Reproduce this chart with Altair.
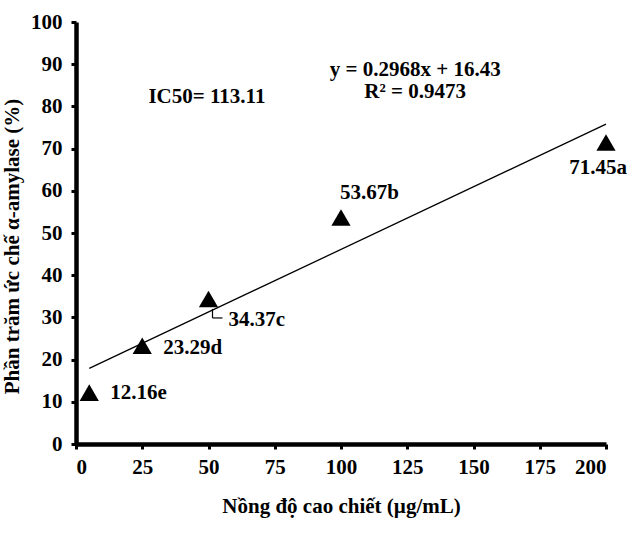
import altair as alt
import pandas as pd

conc = [5, 25, 50, 100, 200]
inhib = [12.16, 23.29, 34.37, 53.67, 71.45]
labels = ["12.16e", "23.29d", "34.37c", "53.67b", "71.45a"]
x_ticks = [0, 25, 50, 75, 100, 125, 150, 175, 200]
y_ticks = [0, 10, 20, 30, 40, 50, 60, 70, 80, 90, 100]

# label offsets in pixels (style)
label_dx = [21, 21, 20, -1, -8]
label_dy = [0, 2, 21, -25, 26]
label_align = ["left", "left", "left", "left", "center"]

FONT = "Liberation Serif"
FS = 21

df = pd.DataFrame({"x": conc, "y": inhib, "label": labels})

xs = alt.Scale(domain=[0, 200], nice=False)
ys = alt.Scale(domain=[0, 100], nice=False)

base = alt.Chart(df)

points = base.mark_point(shape="triangle-up", filled=True, color="black", size=370, opacity=1).encode(
    x=alt.X("x:Q", scale=xs, axis=alt.Axis(values=x_ticks, title="Nồng độ cao chiết (µg/mL)",
                                           titlePadding=18, labelPadding=7)),
    y=alt.Y("y:Q", scale=ys, axis=alt.Axis(values=y_ticks, title="Phần trăm ức chế α-amylase (%)",
                                           titlePadding=8, labelPadding=9, titleY=224)),
)

trend = base.transform_regression("x", "y", extent=[5, 200]).mark_line(color="black", strokeWidth=1.3).encode(
    x=alt.X("x:Q", scale=xs), y=alt.Y("y:Q", scale=ys)
)

layers = [trend, points]
for i in range(len(labels)):
    layers.append(
        base.transform_filter(alt.datum.label == labels[i]).mark_text(
            font=FONT, fontWeight="bold", fontSize=FS, color="black",
            align=label_align[i], baseline="middle", dx=label_dx[i], dy=label_dy[i]
        ).encode(x=alt.X("x:Q", scale=xs), y=alt.Y("y:Q", scale=ys), text="label:N")
    )

# leader line for the "34.37c" label
leader_src = base.transform_filter(alt.datum.label == "34.37c")
leader_v = leader_src.mark_rule(color="black", strokeWidth=1.2, xOffset=4, x2Offset=4,
                                yOffset=10, y2Offset=19).encode(
    x=alt.X("x:Q", scale=xs), x2="x:Q", y=alt.Y("y:Q", scale=ys), y2="y:Q")
leader_h = leader_src.mark_rule(color="black", strokeWidth=1.2, xOffset=4, x2Offset=14,
                                yOffset=19, y2Offset=19).encode(
    x=alt.X("x:Q", scale=xs), x2="x:Q", y=alt.Y("y:Q", scale=ys), y2="y:Q")
layers += [leader_v, leader_h]

ann = pd.DataFrame({
    "x": [49.4, 128, 128],
    "y": [82.2, 88.6, 83.4],
    "t": ["IC50= 113.11", "y = 0.2968x + 16.43", "R² = 0.9473"],
})
annot = alt.Chart(ann).mark_text(font=FONT, fontWeight="bold", fontSize=FS, color="black",
                                 align="center", baseline="middle").encode(
    x=alt.X("x:Q", scale=xs), y=alt.Y("y:Q", scale=ys), text="t:N")
layers.append(annot)

chart = alt.layer(*layers).properties(
    width=530, height=422,
    autosize=alt.AutoSizeParams(type="none"),
    padding={"left": 76, "top": 22, "right": 28, "bottom": 94},
    background="white",
).configure_view(stroke=None).configure_axis(
    grid=False,
    domainColor="black", domainWidth=4.5,
    tickColor="black", tickWidth=3, tickSize=5,
    labelFont=FONT, labelFontWeight="bold", labelFontSize=FS, labelColor="black",
    titleFont=FONT, titleFontWeight="bold", titleFontSize=FS, titleColor="black",
)

chart.save("out.html", embed_options={"renderer": "svg", "actions": False})
